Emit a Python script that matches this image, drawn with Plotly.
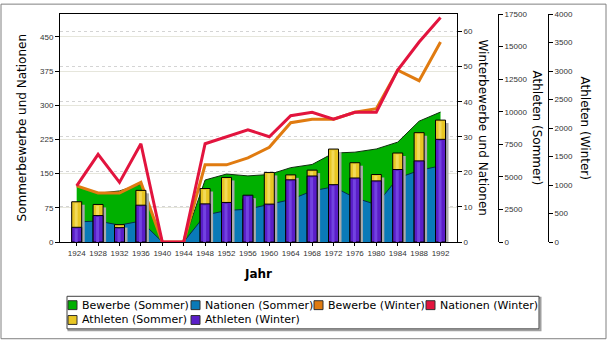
import plotly.graph_objects as go

# ---------------- data ----------------
years = [1924, 1928, 1932, 1936, 1940, 1944, 1948, 1952, 1956, 1960,
         1964, 1968, 1972, 1976, 1980, 1984, 1988, 1992]
bewerbe_sommer = [124, 107, 112, 127, 0, 0, 136, 149, 145, 148,
                  163, 170, 195, 197, 204, 219, 265, 285]
nationen_sommer = [44, 46, 37, 46, 0, 0, 59, 69, 72, 83,
                   93, 112, 121, 97, 82, 140, 157, 167]
bewerbe_winter = [16, 14, 14, 17, 0, 0, 22, 22, 24, 27,
                  34, 35, 35, 37, 38, 49, 46, 57]
nationen_winter = [16, 25, 17, 28, 0, 0, 28, 30, 32, 30,
                   36, 37, 35, 37, 37, 49, 57, 64]
athleten_sommer = [3089, 2883, 1332, 3963, None, None, 4104, 4955, 3314, 5338,
                   5151, 5516, 7134, 6084, 5179, 6829, 8391, 9356]
athleten_winter = [258, 464, 252, 646, None, None, 669, 694, 821, 665,
                   1091, 1158, 1006, 1123, 1072, 1272, 1423, 1801]

names = ["Bewerbe (Sommer)", "Nationen (Sommer)", "Bewerbe (Winter)",
         "Nationen (Winter)", "Athleten (Sommer)", "Athleten (Winter)"]
colors = ["#00B000", "#0A7AB8", "#E07B10", "#E2143E", "#E8C624", "#5A1EC8"]
highlights = {"Athleten (Sommer)": "#F2DA58", "Athleten (Winter)": "#7242E0"}

# ---------------- layout constants ----------------
W, H = 608, 342
L, R, T, B = 60, 10, 11, 100
PW = W - L - R
PH = H - T - B
PLOT_RIGHT = 457


def px(x):
    return (x - L) / PW


def py(y):
    return (H - B - y) / PH


Y1_MAX, Y2_MAX, Y3_MAX, Y4_MAX = 500, 65, 17500, 4000
x_lo, x_hi = 1920.88, 1995.08
unit_px = (PLOT_RIGHT - L) / (x_hi - x_lo)
bar_w = 10 / unit_px
hl_w = 3 / unit_px
hl_off = -bar_w / 2 + 3 / unit_px
sh_dx = 3 / unit_px
sh_dy = 3 / PH * Y3_MAX

tickfont = dict(family="Liberation Sans Narrow, Liberation Sans, sans-serif", size=8, color="#333333")

fig = go.Figure()

# areas (summer, left axis)
fig.add_trace(go.Scatter(x=years, y=bewerbe_sommer, name=names[0], mode="lines",
                         fill="tozeroy", fillcolor=colors[0],
                         line=dict(color="#0E2E0E", width=1), showlegend=False,
                         xaxis="x", yaxis="y"))
fig.add_trace(go.Scatter(x=years, y=nationen_sommer, name=names[1], mode="lines",
                         fill="tozeroy", fillcolor=colors[1],
                         line=dict(color="#082C48", width=1), showlegend=False,
                         xaxis="x", yaxis="y"))

# winter lines (right axis)
fig.add_trace(go.Scatter(x=years, y=bewerbe_winter, name=names[2], mode="lines",
                         line=dict(color=colors[2], width=3), showlegend=False,
                         xaxis="x", yaxis="y2"))
fig.add_trace(go.Scatter(x=years, y=nationen_winter, name=names[3], mode="lines",
                         line=dict(color=colors[3], width=3), showlegend=False,
                         xaxis="x", yaxis="y2"))

# shadow of the bars (on summer-athlete scale)
shadow = []
for s, w in zip(athleten_sommer, athleten_winter):
    if s is None:
        shadow.append(None)
    else:
        shadow.append(max(s, w * Y3_MAX / Y4_MAX) - sh_dy)
fig.add_trace(go.Bar(x=years, y=shadow, width=bar_w, offset=-bar_w / 2 + sh_dx,
                     marker=dict(color="#ABABAB", line=dict(width=0)),
                     showlegend=False, hoverinfo="skip", xaxis="x", yaxis="y3"))

# summer athletes bars + highlight
fig.add_trace(go.Bar(x=years, y=athleten_sommer, name=names[4], width=bar_w, offset=-bar_w / 2,
                     marker=dict(color=colors[4], line=dict(color="#000000", width=1)),
                     showlegend=False, xaxis="x", yaxis="y3"))
d3 = 1.5 / PH * Y3_MAX
fig.add_trace(go.Bar(x=years, y=[None if v is None else v - d3 for v in athleten_sommer],
                     width=hl_w, offset=hl_off,
                     marker=dict(color=highlights[names[4]], line=dict(width=0)),
                     showlegend=False, hoverinfo="skip", xaxis="x", yaxis="y3"))

# winter athletes bars + highlight
fig.add_trace(go.Bar(x=years, y=athleten_winter, name=names[5], width=bar_w, offset=-bar_w / 2,
                     marker=dict(color=colors[5], line=dict(color="#000000", width=1)),
                     showlegend=False, xaxis="x", yaxis="y4"))
d4 = 1.5 / PH * Y4_MAX
fig.add_trace(go.Bar(x=years, y=[None if v is None else v - d4 for v in athleten_winter],
                     width=hl_w, offset=hl_off,
                     marker=dict(color=highlights[names[5]], line=dict(width=0)),
                     showlegend=False, hoverinfo="skip", xaxis="x", yaxis="y4"))

dom_right = px(PLOT_RIGHT)

fig.update_layout(
    width=W, height=H, margin=dict(l=L, r=R, t=T, b=B, pad=0),
    paper_bgcolor="white", plot_bgcolor="rgba(0,0,0,0)",
    barmode="overlay", showlegend=False,
    font=dict(family="DejaVu Sans, sans-serif", color="#000000"),
    xaxis=dict(domain=[0, dom_right], range=[x_lo, x_hi], tickmode="linear", tick0=1924, dtick=4,
               showgrid=False, zeroline=False, showline=True, linecolor="#000000", linewidth=1,
               mirror=True, ticks="outside", ticklen=3, tickcolor="#000000", tickfont=tickfont),
    yaxis=dict(range=[0, Y1_MAX], tickmode="linear", tick0=0, dtick=75,
               showgrid=True, gridcolor="#E6E6DC", gridwidth=1, zeroline=False,
               showline=True, linecolor="#000000", linewidth=1, ticks="outside", ticklen=4,
               tickcolor="#000000", tickfont=tickfont),
    yaxis2=dict(range=[0, Y2_MAX], tickmode="linear", tick0=0, dtick=10, overlaying="y",
                side="right", anchor="x", showgrid=True, gridcolor="#D4D4D4", griddash="dot",
                zeroline=False, showline=True, linecolor="#000000", linewidth=1,
                ticks="outside", ticklen=4, tickcolor="#000000", tickfont=tickfont),
    yaxis3=dict(range=[0, Y3_MAX], tickmode="linear", tick0=0, dtick=2500, overlaying="y",
                side="right", anchor="free", position=px(498), showgrid=False, zeroline=False,
                showline=True, linecolor="#000000", linewidth=1, ticks="outside", ticklen=4,
                tickcolor="#000000", tickfont=tickfont, tickformat="d"),
    yaxis4=dict(range=[0, Y4_MAX], tickmode="linear", tick0=0, dtick=500, overlaying="y",
                side="right", anchor="free", position=px(548), showgrid=False, zeroline=False,
                showline=True, linecolor="#000000", linewidth=1, ticks="outside", ticklen=4,
                tickcolor="#000000", tickfont=tickfont, tickformat="d"),
)

# axis titles
title_font = dict(family="DejaVu Sans, sans-serif", size=12, color="#000000")
titles = [
    ("Sommerbewerbe und Nationen", 22, 126, -90, False),
    ("Winterbewerbe und Nationen", 483, 126, 90, False),
    ("Athleten (Sommer)", 537, 126, 90, False),
    ("Athleten (Winter)", 585, 126, 90, False),
    ("Jahr", 258, 274, 0, True),
]
for text, tx, ty, ang, bold in titles:
    fig.add_annotation(text=("<b>%s</b>" % text) if bold else text, x=px(tx), y=py(ty),
                       xref="paper", yref="paper", showarrow=False, textangle=ang,
                       xanchor="center", yanchor="middle", font=title_font)

# outer border
fig.add_shape(type="rect", xref="paper", yref="paper", x0=px(1), x1=px(606), y0=py(340), y1=py(1),
              line=dict(color="#808080", width=1), fillcolor="rgba(0,0,0,0)", layer="above")

# custom legend
fig.add_shape(type="rect", xref="paper", yref="paper", x0=px(68.5), x1=px(540.5), y0=py(331.5), y1=py(298.5),
              line=dict(color="#A0A0A0", width=2), fillcolor="rgba(0,0,0,0)")
fig.add_shape(type="rect", xref="paper", yref="paper", x0=px(67), x1=px(539), y0=py(330), y1=py(297),
              line=dict(color="#404040", width=1), fillcolor="white")
leg_pos = [(68, 306), (191, 306), (314, 306), (426, 306), (68, 321), (191, 321)]
for name, col, (lx, ly) in zip(names, colors, leg_pos):
    fig.add_shape(type="rect", xref="paper", yref="paper", x0=px(lx), x1=px(lx + 9),
                  y0=py(ly + 4.5), y1=py(ly - 4.5), fillcolor=col,
                  line=dict(color="#303030", width=1))
    fig.add_annotation(text=name, x=px(lx + 12), y=py(ly), xref="paper", yref="paper",
                       showarrow=False, xanchor="left", yanchor="middle",
                       font=dict(family="DejaVu Sans, sans-serif", size=11, color="#000000"))

fig.write_html("out.html")
